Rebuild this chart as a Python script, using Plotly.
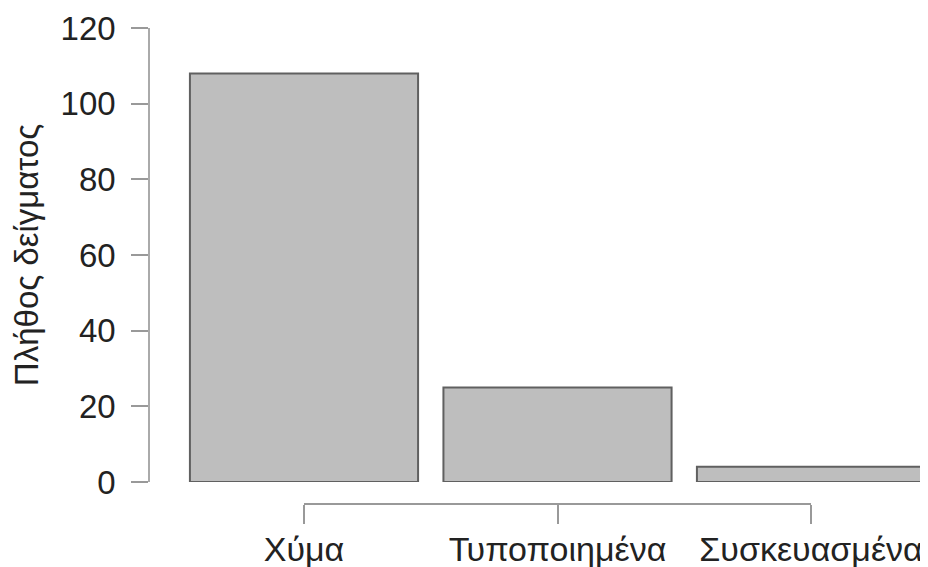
import plotly.graph_objects as go

categories = ["Χύμα", "Τυποποιημένα", "Συσκευασμένα"]
counts = [108, 25, 4]
y_ticks = [0, 20, 40, 60, 80, 100, 120]
y_title = "Πλήθος δείγματος"

# page body has an 8px margin, so the figure is sized to fit inside it
OFF = 8
W, H = 928 - OFF, 567 - OFF
L, R, T = 150 - OFF, 0, 28 - OFF
x_line_px = 504 - OFF
B = H - x_line_px
plot_h = H - T - B
y_bottom_px = 482 - OFF
x_tick_px = [304 - OFF, 811 - OFF]
plot_w = W - L - R
half = (x_tick_px[1] - x_tick_px[0]) / 2

fig = go.Figure()
fig.add_trace(go.Bar(
    x=categories, y=counts, width=0.9,
    marker=dict(color="#bebebe", line=dict(color="#606060", width=2)),
    xaxis="x", yaxis="y", hoverinfo="skip", cliponaxis=False,
))
fig.add_trace(go.Scatter(
    x=categories, y=[0, 0, 0], mode="markers", marker=dict(opacity=0),
    xaxis="x2", yaxis="y", hoverinfo="skip", showlegend=False,
))

fam = "Liberation Sans, Arial, sans-serif"
ytick_font = dict(family=fam, size=33, color="#222222")
xtick_font = dict(family=fam, size=34, color="#222222")
title_font = dict(family=fam, size=33, color="#222222")

fig.update_layout(
    width=W, height=H,
    margin=dict(l=L, r=R, t=T, b=B, autoexpand=False),
    paper_bgcolor="white", plot_bgcolor="rgba(0,0,0,0)",
    showlegend=False,
    xaxis=dict(
        range=[-(x_tick_px[0] - L) / half, 2 + (W - R - x_tick_px[1]) / half],
        showline=False, showticklabels=False, ticks="", showgrid=False, zeroline=False,
        domain=[0, 1], anchor="y", fixedrange=True, automargin=False,
    ),
    xaxis2=dict(
        anchor="free", position=0,
        domain=[(x_tick_px[0] - L) / plot_w, (x_tick_px[1] - L) / plot_w],
        range=[0, 2], showline=True, linecolor="#999999", linewidth=1.5,
        ticks="outside", ticklen=19, tickwidth=1.5, tickcolor="#999999",
        showgrid=False, zeroline=False, tickfont=xtick_font, ticklabelstandoff=-4,
        fixedrange=True, automargin=False,
    ),
    yaxis=dict(
        domain=[(H - B - y_bottom_px) / plot_h, 1],
        range=[0, 120], tickvals=y_ticks,
        showline=True, linecolor="#aaaaaa", linewidth=1.5,
        ticks="outside", ticklen=17, tickwidth=1.5, tickcolor="#999999",
        showgrid=False, zeroline=False, tickfont=ytick_font, ticklabelstandoff=9,
        title=dict(text=y_title, font=title_font, standoff=14),
        fixedrange=True, automargin=False,
    ),
)

fig.write_html("out.html")
